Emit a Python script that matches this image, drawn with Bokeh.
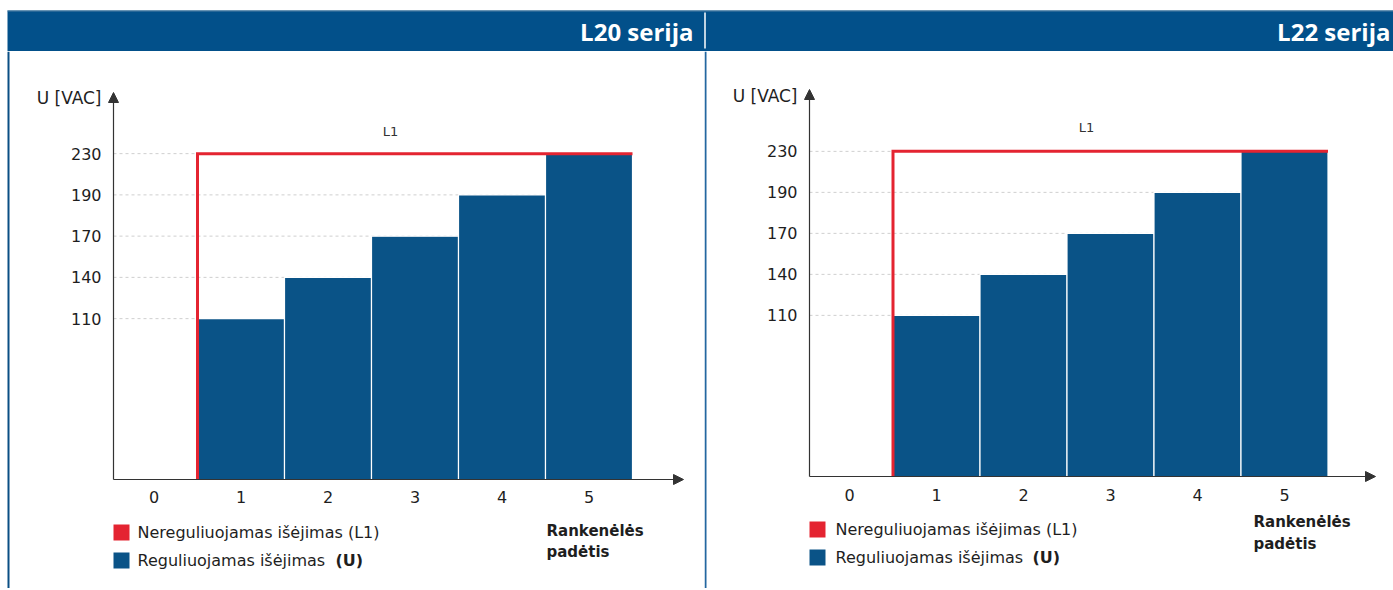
import numpy as np
from bokeh.plotting import figure
from bokeh.layouts import column, row
from bokeh.models import Range1d, Span, Arrow, NormalHead
from bokeh.core.properties import value
from bokeh.embed import file_html
from bokeh.resources import INLINE

# ---------------- data ----------------
titles = ["L20 serija", "L22 serija"]
positions = [0, 1, 2, 3, 4, 5]
position_labels = ["0", "1", "2", "3", "4", "5"]
bar_positions = [1, 2, 3, 4, 5]
u_values_l20 = [110, 140, 170, 190, 230]
u_values_l22 = [110, 140, 170, 190, 230]
l1_value = 230
l1_start, l1_end = 0.5, 5.5
y_ticks = [110, 140, 170, 190, 230]
y_tick_labels = ["110", "140", "170", "190", "230"]
y_axis_label = "U [VAC]"
x_axis_label = ["Rankenėlės", "padėtis"]
legend_l1 = "Nereguliuojamas išėjimas (L1)"
legend_u = "Reguliuojamas išėjimas"
legend_u_bold = "(U)"
l1_label = "L1"

# ---------------- style ----------------
HDR = "#02508a"
BAR = "#0a5387"
RED = "#e42431"
TXT = "#1e1e1e"
AX = "#333333"
GRID = "#cfcfcf"
FONT = "DejaVu Sans"

HH = 51            # header height
TOP, PH = 51, 537  # panel top on page, panel height


def make_panel(vals, left, width, cx0, cdx, by, sy, slot0, lay, border_color):
    fx = lambda px: (px - cx0) / cdx
    fy = lambda py: (by - py) / sy
    p = figure(width=width, height=PH, output_backend="svg", toolbar_location=None,
               x_axis_type=None, y_axis_type=None, min_border=0,
               x_range=Range1d(fx(left), fx(left + width)),
               y_range=Range1d(fy(TOP + PH), fy(TOP)))
    p.outline_line_color = None
    p.background_fill_color = "white"
    p.border_fill_color = "white"

    knots_v = [0] + y_ticks
    knots_p = [0] + [slot0 + i for i in range(len(y_ticks))]
    ypos = lambda v: np.interp(v, knots_v, knots_p)

    ax_x = fx(lay["axis_px"])
    # gridlines
    gy = ypos(np.array(y_ticks))
    p.segment(x0=[ax_x] * len(gy), x1=[l1_end] * len(gy), y0=gy, y1=gy,
              line_color=GRID, line_width=1, line_dash="3 3")
    # bars
    p.vbar(x=bar_positions, width=1, bottom=0, top=ypos(np.array(vals)),
           fill_color=BAR, line_color="white", line_width=1.2)
    # L1 line
    ly = float(ypos(l1_value))
    p.line(x=[l1_start, l1_start, l1_end], y=[0, ly, ly], line_color=RED,
           line_width=3, line_join="miter")
    # axes with arrows
    p.add_layout(Arrow(end=NormalHead(size=10, fill_color=AX, line_color=AX),
                       x_start=ax_x, y_start=0, x_end=ax_x, y_end=fy(lay["ytip"]),
                       line_color=AX, line_width=1.2))
    p.add_layout(Arrow(end=NormalHead(size=10, fill_color=AX, line_color=AX),
                       x_start=ax_x, y_start=0, x_end=fx(lay["xtip"]), y_end=0,
                       line_color=AX, line_width=1.2))
    # tick labels
    p.text(x=[fx(lay["ylab_px"])] * len(y_ticks), y=gy, text=y_tick_labels,
           text_font=value(FONT), text_font_size="16px", text_align="right",
           text_baseline="middle", text_color=TXT)
    p.text(x=[fx(lay["ylab_px"])], y=[fy(lay["ylabel_py"])], text=[y_axis_label],
           text_font=value(FONT), text_font_size="17px", text_align="right",
           text_baseline="middle", text_color=TXT)
    p.text(x=positions, y=[fy(lay["xlab_py"])] * len(positions), text=position_labels,
           text_font=value(FONT), text_font_size="16px", text_align="center",
           text_baseline="middle", text_color=TXT)
    # L1 label
    p.text(x=[fx(lay["l1_px"])], y=[fy(lay["l1_py"])], text=[l1_label],
           text_font=value(FONT), text_font_size="13px", text_align="center",
           text_baseline="middle", text_color="#333333")
    # legend
    p.scatter(x=[fx(lay["sq_px"])] * 2, y=[fy(lay["leg1_py"]), fy(lay["leg2_py"])],
              marker="square", size=16, fill_color=[RED, BAR], line_color=None)
    p.text(x=[fx(lay["legtxt_px"])] * 2, y=[fy(lay["leg1_py"]), fy(lay["leg2_py"])],
           text=[legend_l1, legend_u], text_font=value(FONT), text_font_size="16px",
           text_align="left", text_baseline="middle", text_color=TXT)
    p.text(x=[fx(lay["ubold_px"])], y=[fy(lay["leg2_py"])], text=[legend_u_bold],
           text_font=value(FONT), text_font_size="16px", text_font_style="bold",
           text_align="left", text_baseline="middle", text_color=TXT)
    p.text(x=[fx(lay["rank_px"])] * 2, y=[fy(lay["rank1_py"]), fy(lay["rank2_py"])],
           text=x_axis_label, text_font=value(FONT), text_font_size="15px",
           text_font_style="bold", text_align="left", text_baseline="middle",
           text_color=TXT)
    # border line at panel's left edge
    p.add_layout(Span(location=fx(lay["border_px"]), dimension="height",
                      line_color=border_color, line_width=2))
    return p


lay_left = dict(axis_px=113, ytip=92, xtip=683, ylab_px=101, ylabel_py=97,
                xlab_py=496, l1_px=390, l1_py=131, sq_px=121, leg1_py=532,
                leg2_py=560, legtxt_px=137, ubold_px=335, rank_px=546,
                rank1_py=530, rank2_py=551, border_px=8)
lay_right = dict(axis_px=809, ytip=89, xtip=1375, ylab_px=797, ylabel_py=95,
                 xlab_py=494, l1_px=1086, l1_py=127, sq_px=817, leg1_py=529,
                 leg2_py=557, legtxt_px=835, ubold_px=1032, rank_px=1253,
                 rank1_py=521, rank2_py=543, border_px=705)

p_left = make_panel(u_values_l20, 0, 704, 153.5, 87.0, 479, 41.25, 3.90, lay_left, "#0a4f84")
p_right = make_panel(u_values_l22, 704, 689, 849.0, 87.0, 476, 41.0, 3.93, lay_right, "#2467a0")

# header
h = figure(width=1393, height=HH, output_backend="svg", toolbar_location=None,
           x_axis_type=None, y_axis_type=None, min_border=0,
           x_range=Range1d(0, 1393), y_range=Range1d(0, HH))
h.outline_line_color = None
h.border_fill_color = "white"
h.background_fill_color = "white"
h.quad(left=[7], right=[1393], bottom=[0], top=[41], fill_color=HDR, line_color=None)
h.segment(x0=[7], x1=[1393], y0=[40.5], y1=[40.5], line_color="#4f7fa3", line_width=1)
h.segment(x0=[704.5], x1=[704.5], y0=[3], y1=[39], line_color="white", line_width=1.5)
h.text(x=[693, 1390], y=[20, 20], text=titles, text_font=value("Open Sans"),
       text_font_size="24px", text_font_style="bold", text_align="right",
       text_baseline="middle", text_color="white")

layout = column(h, row(p_left, p_right, spacing=0), spacing=0)
open("out.html", "w").write(file_html(layout, INLINE))
